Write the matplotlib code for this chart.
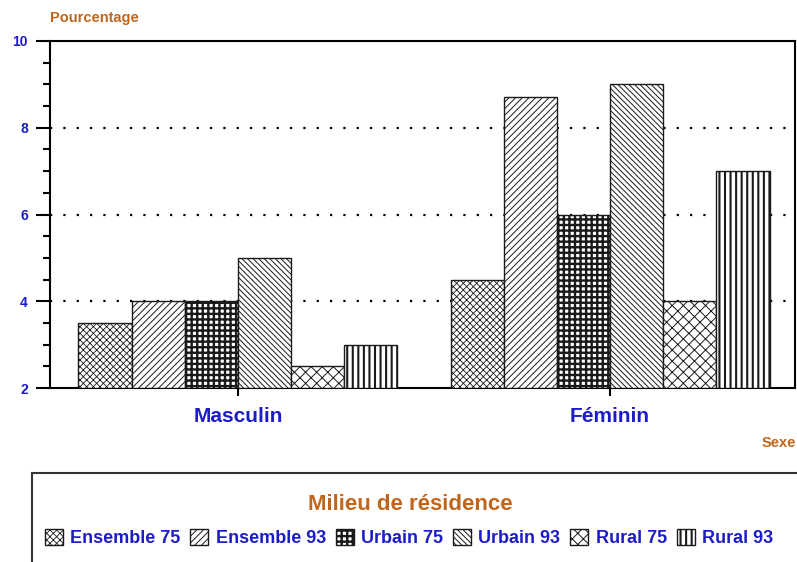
import matplotlib
matplotlib.use('Agg')
import matplotlib.pyplot as plt
import numpy as np
from matplotlib.patches import Patch, Rectangle
from matplotlib.ticker import MultipleLocator

plt.rcParams['font.family'] = ['Liberation Sans', 'DejaVu Sans']
plt.rcParams['font.weight'] = 'bold'

groups = ['Masculin', 'Féminin']
series = ['Ensemble 75', 'Ensemble 93', 'Urbain 75', 'Urbain 93', 'Rural 75', 'Rural 93']
values = {
    'Ensemble 75': [3.5, 4.5],
    'Ensemble 93': [4.0, 8.7],
    'Urbain 75':   [4.0, 6.0],
    'Urbain 93':   [5.0, 9.0],
    'Rural 75':    [2.5, 4.0],
    'Rural 93':    [3.0, 7.0],
}
hatches = ['x' * 5, '/' * 5, '+++', '\\' * 6, 'xxx', '|||']
hatch_lw = [0.6, 0.7, 1.7, 0.7, 0.7, 1.5]
yticks = [2, 4, 6, 8, 10]

blue = '#1c1cc8'
orange = '#c0661c'


def thick_hatch(artist, lw):
    # hatch linewidth is read from rcParams at draw time in some versions
    if hasattr(artist, 'set_hatch_linewidth'):
        artist.set_hatch_linewidth(lw)
    orig = artist.draw

    def draw(renderer):
        with plt.rc_context({'hatch.linewidth': lw}):
            orig(renderer)
    artist.draw = draw


W, H = 797, 562
fig = plt.figure(figsize=(W / 100, H / 100), dpi=100)
ax = fig.add_axes([50 / W, 1 - 388 / H, 745 / W, 347 / H])

x = np.arange(len(groups))
bw = 1 / 7
for i, s in enumerate(series):
    off = (i - 2.5) * bw
    plt.rcParams['hatch.linewidth'] = hatch_lw[i]
    bars = ax.bar(x + off, np.array(values[s]) - 2, bw, bottom=2,
                  color='white', edgecolor='#1a1a1a', linewidth=1.0,
                  hatch=hatches[i], zorder=3)
    for b in bars:
        thick_hatch(b, hatch_lw[i])

ax.set_xlim(-0.505, 1.497)
ax.set_ylim(2, 10)
ax.set_yticks(yticks)
ax.yaxis.set_minor_locator(MultipleLocator(0.5))
ax.set_yticklabels([str(v) for v in yticks], color=blue, fontsize=10, fontweight='bold')
ax.set_xticks(x)
ax.set_xticklabels(groups, color=blue, fontsize=15, fontweight='bold')
ax.tick_params(axis='y', which='major', length=10, width=1.5, pad=6)
ax.tick_params(axis='y', which='minor', length=5, width=1.5)
ax.tick_params(axis='x', which='major', length=6, width=1.5, pad=8)
for sp in ax.spines.values():
    sp.set_linewidth(1.5)

for v in [4, 6, 8]:
    ax.axhline(v, color='black', linewidth=1.6, linestyle=(0, (1, 5)), zorder=1)

fig.text(50 / W, 1 - 18 / H, 'Pourcentage', color=orange, fontsize=10.5,
         fontweight='bold', va='center', ha='left')
fig.text(796 / W, 1 - 443 / H, 'Sexe', color=orange, fontsize=10.5,
         fontweight='bold', va='center', ha='right')

fig.patches.append(Rectangle((32 / W, -0.05), 1.0, 0.05 + 1 - 473 / H,
                             transform=fig.transFigure, fill=False,
                             edgecolor='#333333', linewidth=1.5))
fig.text(410 / W, 1 - 504 / H, 'Milieu de résidence', color=orange, fontsize=16,
         fontweight='bold', va='center', ha='center')

plt.rcParams['hatch.linewidth'] = 0.7
handles = [Patch(facecolor='white', edgecolor='#1a1a1a', hatch=hatches[i], linewidth=1.0)
           for i in range(len(series))]
leg = fig.legend(handles, series, loc='center', bbox_to_anchor=(409 / W, 1 - 538 / H),
                 ncol=6, frameon=False, handlelength=1.0, handleheight=1.0,
                 handletextpad=0.4, columnspacing=0.55, borderaxespad=0,
                 prop={'size': 13, 'weight': 'bold'})
for t in leg.get_texts():
    t.set_color(blue)
for i, p in enumerate(leg.get_patches()):
    thick_hatch(p, hatch_lw[i])

fig.savefig('out.png', dpi=100)
